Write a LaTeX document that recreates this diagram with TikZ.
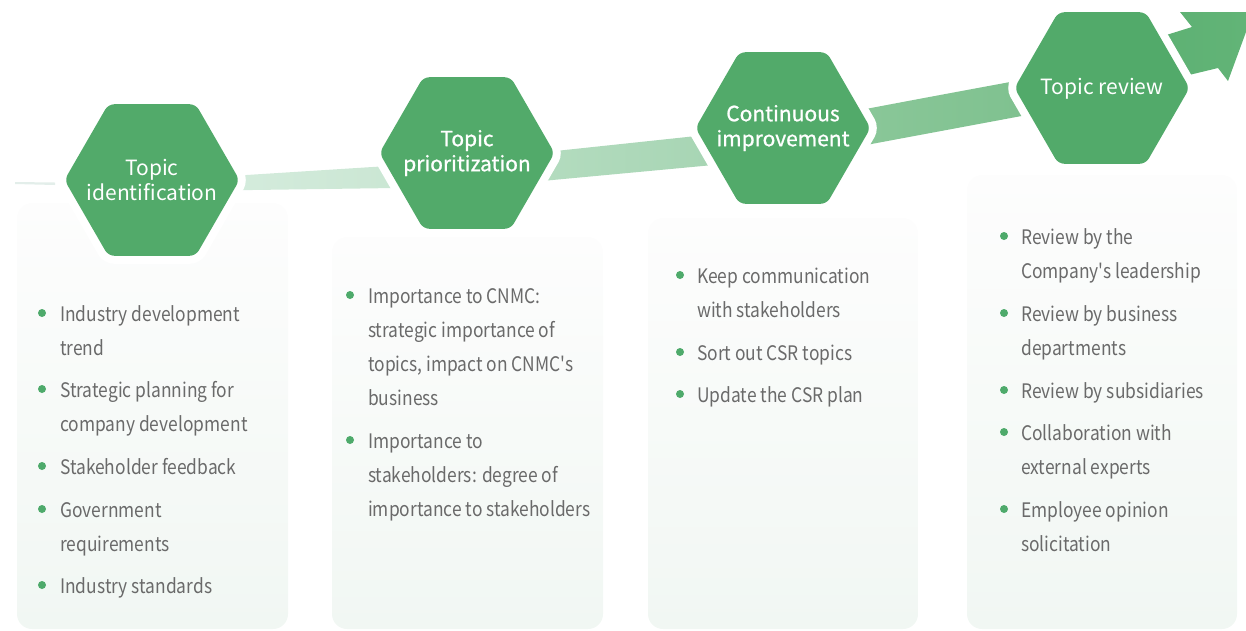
\documentclass[tikz,border=0pt]{standalone}
\usepackage{fontspec}
\setmainfont{Noto Sans CJK SC}
\newfontfamily\bodyfont[FakeStretch=0.87]{Noto Sans CJK SC}
\newfontfamily\hexmed[FakeBold=0.9]{Noto Sans CJK SC}
\usetikzlibrary{shapes.geometric}
\definecolor{hexg}{HTML}{52AA6A}
\definecolor{bulg}{HTML}{4EAA6B}
\definecolor{txtg}{HTML}{6A6A6A}
\definecolor{pant}{HTML}{FDFDFD}
\definecolor{panb}{HTML}{F1F7F3}
\definecolor{bandAa}{HTML}{D9EEE1}
\definecolor{bandAb}{HTML}{C6E4CF}
\definecolor{bandBa}{HTML}{B9DFC4}
\definecolor{bandBb}{HTML}{A2D2AF}
\definecolor{bandCa}{HTML}{8FCA9D}
\definecolor{bandCb}{HTML}{7ABE8B}
\definecolor{arra}{HTML}{5BAF71}
\definecolor{arrb}{HTML}{62B477}
\definecolor{tailc}{HTML}{E3EEEA}
\tikzset{
  hex/.style={regular polygon, regular polygon sides=6, minimum size=175pt,
    inner sep=0pt, outer sep=0pt, fill=hexg, rounded corners=6pt,
    preaction={draw=white, line width=16pt}},
  hexlabel/.style={text=white, align=center, inner sep=0pt, font=\fontsize{21}{25}\selectfont},
  panel/.style={top color=pant, bottom color=panb, rounded corners=15pt},
  txt/.style={anchor=base west, inner sep=0pt, text=txtg, font=\bodyfont\fontsize{20}{34}\selectfont},
  bul/.style={circle, fill=bulg, inner sep=0pt, minimum size=8pt}
}
\begin{document}
\begin{tikzpicture}[x=1pt,y=-1pt]
\useasboundingbox (0,0) rectangle (1246,630);
% panels
\shade[panel] (17,203) rectangle (288,629);
\shade[panel] (332,237) rectangle (603,629);
\shade[panel] (648,218) rectangle (918,629);
\shade[panel] (967,175) rectangle (1237,629);
% tail
\fill[tailc] (15,182) -- (55,182.5) -- (55,185) -- (15,184) -- cycle;
% bands
\shade[left color=bandAa, right color=bandAb] (152,181) -- (467,161) -- (467,187) -- (152,191.4) -- cycle;
\shade[left color=bandBa, right color=bandBb] (467,160.4) -- (783,126.8) -- (783,158.5) -- (467,188) -- cycle;
\shade[left color=bandCa, right color=bandCb] (783,125) .. controls (900,102) and (1000,84) .. (1102,65) -- (1102,101) -- (783,160.5) -- cycle;
\shade[left color=arra, right color=arrb] (1102,55) -- (1192,27) -- (1180,12) -- (1246,12) -- (1246,32) -- (1228,81) -- (1218,68) -- (1102,96) -- cycle;
% hexagons
\node[hex] (h1) at (152,180) {};
\node[hex] (h2) at (467,153) {};
\node[hex] (h3) at (783,128) {};
\node[hex] (h4) at (1102,88) {};
\node[hexlabel] (l1) at (h1.center) {Topic\\identification};
\node[hexlabel] (l2) at (h2.center) {\hexmed Topic\\\hexmed prioritization};
\node[hexlabel] (l3) at (h3.center) {\hexmed Continuous\\\hexmed improvement};
\node[hexlabel, anchor=base] (l4) at ([yshift=-6pt]h4.center) {Topic review};
% panel 1
\node[bul] (b11) at (42,313) {};
\node[txt] (t11) at (60,321) {Industry development};
\node[txt] (t12) at (60,355) {trend};
\node[bul] (b12) at (42,389) {};
\node[txt] (t13) at (60,397) {Strategic planning for};
\node[txt] (t14) at (60,431) {company development};
\node[bul] (b13) at (42,466) {};
\node[txt] (t15) at (60,474) {Stakeholder feedback};
\node[bul] (b14) at (42,509) {};
\node[txt] (t16) at (60,517) {Government};
\node[txt] (t17) at (60,551) {requirements};
\node[bul] (b15) at (42,585) {};
\node[txt] (t18) at (60,593) {Industry standards};
% panel 2
\node[bul] (b21) at (350,295) {};
\node[txt] (t21) at (368,303) {Importance to CNMC:};
\node[txt] (t22) at (368,337) {strategic importance of};
\node[txt] (t23) at (368,371) {topics, impact on CNMC\char"0027 s};
\node[txt] (t24) at (368,405) {business};
\node[bul] (b22) at (350,440) {};
\node[txt] (t25) at (368,448) {Importance to};
\node[txt] (t26) at (368,482) {stakeholders: degree of};
\node[txt] (t27) at (368,516) {importance to stakeholders};
% panel 3
\node[bul] (b31) at (680,275) {};
\node[txt] (t31) at (697,283) {Keep communication};
\node[txt] (t32) at (697,317) {with stakeholders};
\node[bul] (b32) at (680,352) {};
\node[txt] (t33) at (697,360) {Sort out CSR topics};
\node[bul] (b33) at (680,394) {};
\node[txt] (t34) at (697,402) {Update the CSR plan};
% panel 4
\node[bul] (b41) at (1004,236) {};
\node[txt] (t41) at (1021,244) {Review by the};
\node[txt] (t42) at (1021,278) {Company\char"0027 s leadership};
\node[bul] (b42) at (1004,313) {};
\node[txt] (t43) at (1021,321) {Review by business};
\node[txt] (t44) at (1021,355) {departments};
\node[bul] (b43) at (1004,390) {};
\node[txt] (t45) at (1021,398) {Review by subsidiaries};
\node[bul] (b44) at (1004,432) {};
\node[txt] (t46) at (1021,440) {Collaboration with};
\node[txt] (t47) at (1021,474) {external experts};
\node[bul] (b45) at (1004,509) {};
\node[txt] (t48) at (1021,517) {Employee opinion};
\node[txt] (t49) at (1021,551) {solicitation};
\end{tikzpicture}
\end{document}
